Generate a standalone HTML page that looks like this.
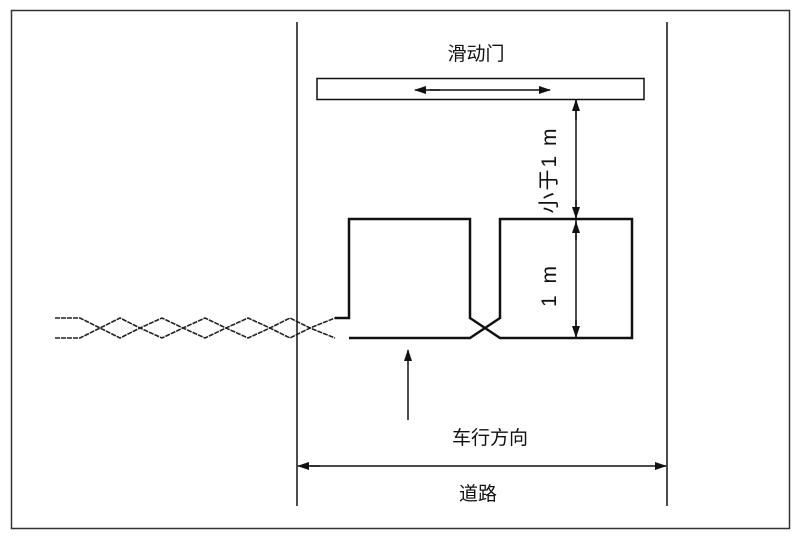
<!DOCTYPE html>
<html><head><meta charset="utf-8"><style>
html,body{margin:0;padding:0;background:#fff;}
svg{display:block}
text{font-family:"Liberation Sans","Noto Sans CJK SC",sans-serif;fill:#111}
</style></head><body>
<svg width="800" height="537" viewBox="0 0 800 537">
<defs>
<marker id="ah" markerWidth="12" markerHeight="8" refX="11" refY="4" orient="auto" markerUnits="userSpaceOnUse">
<path d="M0,0 L12,4 L0,8 Z" fill="#111"/></marker>
</defs>
<rect x="11.5" y="10.5" width="778" height="518" fill="none" stroke="#333" stroke-width="1.5"/>
<line x1="297" y1="22" x2="297" y2="506" stroke="#111" stroke-width="1.5"/>
<line x1="667" y1="22" x2="667" y2="506" stroke="#111" stroke-width="1.5"/>
<text x="476" y="60" font-size="19" text-anchor="middle">滑动门</text>
<rect x="317" y="78.5" width="327" height="21" fill="#fff" stroke="#111" stroke-width="1.5"/>
<line x1="440" y1="90" x2="415" y2="90" stroke="#111" stroke-width="1.5" marker-end="url(#ah)"/>
<line x1="430" y1="90" x2="550" y2="90" stroke="#111" stroke-width="1.5" marker-end="url(#ah)"/>
<line x1="576" y1="100" x2="576" y2="337" stroke="#111" stroke-width="1.5"/>
<line x1="576" y1="120" x2="576" y2="100" stroke="#111" stroke-width="1.5" marker-end="url(#ah)"/>
<line x1="576" y1="200" x2="576" y2="218" stroke="#111" stroke-width="1.5" marker-end="url(#ah)"/>
<line x1="576" y1="240" x2="576" y2="222" stroke="#111" stroke-width="1.5" marker-end="url(#ah)"/>
<line x1="576" y1="320" x2="576" y2="337" stroke="#111" stroke-width="1.5" marker-end="url(#ah)"/>
<text transform="translate(556,170) rotate(-90)" font-size="21" text-anchor="middle" letter-spacing="2">小于1 m</text>
<text transform="translate(556,285) rotate(-90)" font-size="21" text-anchor="middle" letter-spacing="3">1 m</text>
<g fill="none" stroke="#111" stroke-width="2.5">
<path d="M335,318 H349 V219 H470 V318 L500,338 H632 V219 H500 V318 L470,338 H349"/>
</g>
<g fill="none" stroke="#222" stroke-width="1.6" stroke-dasharray="5,1">
<path d="M55,318 H80 L100,328 L120,318 L140,328 L162,318 L183,328 L205,318 L226,328 L248,318 L270,328 L290,318 L310,328 L325,322 L335,318"/>
<path d="M55,338 H80 L100,328 L120,338 L140,328 L162,338 L183,328 L205,338 L226,328 L248,338 L270,328 L290,338 L310,328 L325,334 L335,338"/>
</g>
<line x1="408" y1="420" x2="408" y2="350" stroke="#111" stroke-width="1.5" marker-end="url(#ah)"/>
<text x="490" y="444" font-size="19" text-anchor="middle">车行方向</text>
<line x1="320" y1="466" x2="298" y2="466" stroke="#111" stroke-width="1.5" marker-end="url(#ah)"/>
<line x1="310" y1="466" x2="666" y2="466" stroke="#111" stroke-width="1.5" marker-end="url(#ah)"/>
<text x="478" y="500" font-size="19" text-anchor="middle">道路</text>
</svg>
</body></html>
